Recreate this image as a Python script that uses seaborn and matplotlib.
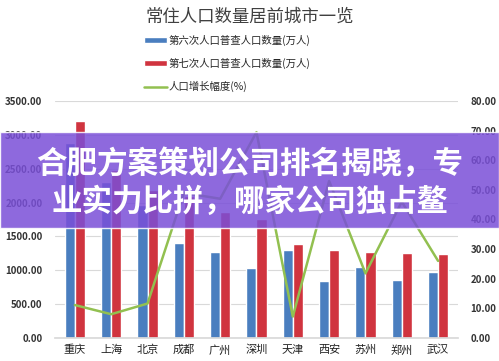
import numpy as np
import pandas as pd
import matplotlib
matplotlib.use("Agg")
import matplotlib.pyplot as plt
import seaborn as sns
from matplotlib.patches import Patch, Rectangle
from matplotlib.lines import Line2D
from matplotlib.ticker import MultipleLocator, FormatStrFormatter

# Data
cities = ["重庆", "上海", "北京", "成都", "广州", "深圳", "天津", "西安", "苏州", "郑州", "武汉"]
census6 = [2885, 2302, 1961, 1405, 1270, 1036, 1294, 847, 1047, 863, 979]
census7 = [3205, 2487, 2189, 2094, 1868, 1756, 1387, 1296, 1275, 1260, 1233]
growth = [11.1, 8.0, 11.6, 49.0, 47.0, 69.5, 7.2, 53.0, 21.8, 46.0, 26.0]

label6 = "第六次人口普查人口数量(万人)"
label7 = "第七次人口普查人口数量(万人)"
label_g = "人口增长幅度(%)"

blue = "#4A7EBF"
red = "#D0343F"
green = "#92C050"

sns.set_theme(style="white")
plt.rcParams["font.family"] = ["Noto Sans CJK SC", "DejaVu Sans"]

df = pd.DataFrame({
    "city": cities * 2,
    "value": census6 + census7,
    "series": [label6] * len(cities) + [label7] * len(cities),
})

fig = plt.figure(figsize=(4.99, 3.61), dpi=100)
ax = fig.add_axes([0.11, 0.064, 0.808, 0.656])

sns.barplot(data=df, x="city", y="value", hue="series", order=cities,
            palette=[blue, red], width=0.56, saturation=1, ax=ax, legend=False)

ax.set_ylim(0, 3500)
ax.yaxis.set_major_locator(MultipleLocator(500))
ax.yaxis.set_major_formatter(FormatStrFormatter("%.2f"))
ax.grid(axis="y", color="#d9d9d9", linewidth=0.8)
ax.set_axisbelow(True)
ax.set_xlabel("")
ax.set_ylabel("")
for s in ["top", "right", "left"]:
    ax.spines[s].set_visible(False)
ax.spines["bottom"].set_color("#d9d9d9")
ax.tick_params(axis="y", labelsize=7, colors="#333333", length=0, pad=9)
ax.tick_params(axis="x", labelsize=8, colors="#222222", length=0, pad=5)
for t in ax.get_yticklabels():
    t.set_fontweight("bold")
ax.set_xlim(-0.55, len(cities) - 0.45)

ax2 = ax.twinx()
sns.lineplot(x=cities, y=growth, sort=False, color=green, linewidth=1.8, ax=ax2)
ax2.set_ylim(0, 80)
ax2.yaxis.set_major_locator(MultipleLocator(10))
ax2.yaxis.set_major_formatter(FormatStrFormatter("%.2f"))
for s in ["top", "right", "left", "bottom"]:
    ax2.spines[s].set_visible(False)
ax2.tick_params(axis="y", labelsize=7, colors="#333333", length=0, pad=9)
for t in ax2.get_yticklabels():
    t.set_fontweight("bold")
ax2.set_ylabel("")

fig.text(0.50, 0.955, "常住人口数量居前城市一览", ha="center", va="center",
         fontsize=12.5, color="#404040")

handles = [
    Patch(facecolor=blue, label=label6),
    Patch(facecolor=red, label=label7),
    Line2D([0], [0], color=green, linewidth=1.8, label=label_g),
]
fig.legend(handles=handles, loc="upper left", bbox_to_anchor=(0.28, 0.915),
           frameon=False, fontsize=7.5, labelspacing=1.15, handlelength=2.2,
           handleheight=0.45, handletextpad=0.2, borderaxespad=0)

# purple overlay banner
fig.patches.append(Rectangle((0, 1 - 228 / 361), 1, 96 / 361, transform=fig.transFigure,
                             facecolor="#7A4FD8", alpha=0.85, zorder=10))
fig.text(0.5, 1 - 164 / 361, "合肥方案策划公司排名揭晓，专", ha="center", va="center",
         fontsize=22, fontweight="bold", color="white", zorder=11)
fig.text(0.5, 1 - 202 / 361, "业实力比拼，哪家公司独占鳌", ha="center", va="center",
         fontsize=22, fontweight="bold", color="white", zorder=11)

fig.savefig("out.png", dpi=100)
